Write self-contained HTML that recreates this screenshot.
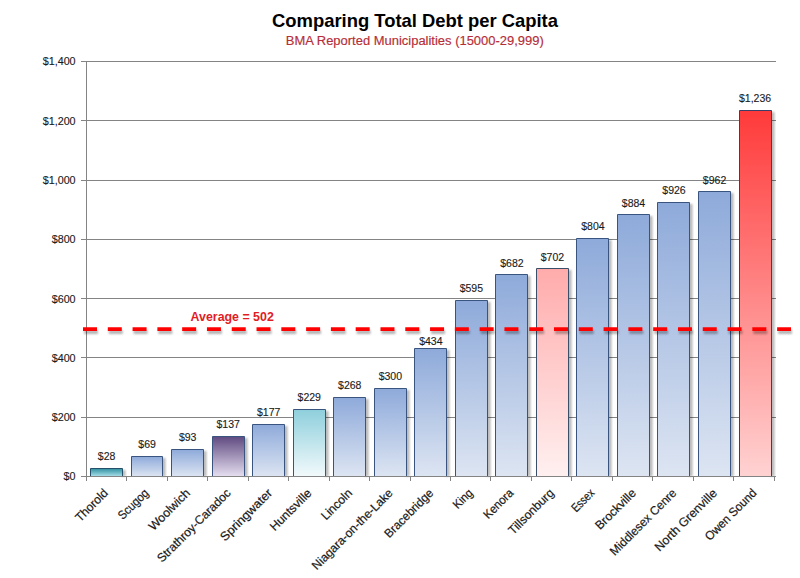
<!DOCTYPE html><html><head><meta charset="utf-8"><style>html,body{margin:0;padding:0;background:#fff;}svg{display:block;font-family:"Liberation Sans", sans-serif;}</style></head><body>
<svg width="800" height="578" viewBox="0 0 800 578">
<defs>
<filter id="sh" x="-30%" y="-10%" width="160%" height="120%"><feGaussianBlur stdDeviation="1.1"/></filter>
<filter id="dsh" filterUnits="userSpaceOnUse" x="70" y="315" width="740" height="30"><feGaussianBlur in="SourceAlpha" stdDeviation="1"/><feOffset dx="1" dy="2.5" result="b"/><feComponentTransfer><feFuncA type="linear" slope="0.3"/></feComponentTransfer><feMerge><feMergeNode/><feMergeNode in="SourceGraphic"/></feMerge></filter>
<linearGradient id="g_teal" x1="0" y1="0" x2="0" y2="1"><stop offset="0" stop-color="#2e8e9f"/><stop offset="1" stop-color="#ade2eb"/></linearGradient>
<linearGradient id="g_blue" x1="0" y1="0" x2="0" y2="1"><stop offset="0" stop-color="#8eaada"/><stop offset="1" stop-color="#dde5f2"/></linearGradient>
<linearGradient id="g_purple" x1="0" y1="0" x2="0" y2="1"><stop offset="0" stop-color="#5f4a80"/><stop offset="1" stop-color="#e6dff0"/></linearGradient>
<linearGradient id="g_lteal" x1="0" y1="0" x2="0" y2="1"><stop offset="0" stop-color="#8ecfdc"/><stop offset="1" stop-color="#f2fafc"/></linearGradient>
<linearGradient id="g_pink" x1="0" y1="0" x2="0" y2="1"><stop offset="0" stop-color="#ffabab"/><stop offset="1" stop-color="#fff0f0"/></linearGradient>
<linearGradient id="g_red" x1="0" y1="0" x2="0" y2="1"><stop offset="0" stop-color="#ff3a3a"/><stop offset="1" stop-color="#ffd2d2"/></linearGradient>
</defs>
<text x="415" y="27" text-anchor="middle" font-size="18.4" font-weight="bold" fill="#000" textLength="286" lengthAdjust="spacingAndGlyphs">Comparing Total Debt per Capita</text>
<text x="414.8" y="45" text-anchor="middle" font-size="12" fill="#b52e38" stroke="#b52e38" stroke-width="0.15" textLength="258" lengthAdjust="spacingAndGlyphs">BMA Reported  Municipalities (15000-29,999)</text>
<line x1="81" y1="476.50" x2="776.00" y2="476.50" stroke="#848484" stroke-width="1"/>
<text x="75.6" y="480.40" text-anchor="end" font-size="10" fill="#1a1a1a" stroke="#1a1a1a" stroke-width="0.12" textLength="11.96" lengthAdjust="spacingAndGlyphs">$0</text>
<line x1="81" y1="417.50" x2="776.00" y2="417.50" stroke="#848484" stroke-width="1"/>
<text x="75.6" y="421.11" text-anchor="end" font-size="10" fill="#1a1a1a" stroke="#1a1a1a" stroke-width="0.12" textLength="23.91" lengthAdjust="spacingAndGlyphs">$200</text>
<line x1="81" y1="357.50" x2="776.00" y2="357.50" stroke="#848484" stroke-width="1"/>
<text x="75.6" y="361.83" text-anchor="end" font-size="10" fill="#1a1a1a" stroke="#1a1a1a" stroke-width="0.12" textLength="23.91" lengthAdjust="spacingAndGlyphs">$400</text>
<line x1="81" y1="298.50" x2="776.00" y2="298.50" stroke="#848484" stroke-width="1"/>
<text x="75.6" y="302.54" text-anchor="end" font-size="10" fill="#1a1a1a" stroke="#1a1a1a" stroke-width="0.12" textLength="23.91" lengthAdjust="spacingAndGlyphs">$600</text>
<line x1="81" y1="239.50" x2="776.00" y2="239.50" stroke="#848484" stroke-width="1"/>
<text x="75.6" y="243.26" text-anchor="end" font-size="10" fill="#1a1a1a" stroke="#1a1a1a" stroke-width="0.12" textLength="23.91" lengthAdjust="spacingAndGlyphs">$800</text>
<line x1="81" y1="180.50" x2="776.00" y2="180.50" stroke="#848484" stroke-width="1"/>
<text x="75.6" y="183.97" text-anchor="end" font-size="10" fill="#1a1a1a" stroke="#1a1a1a" stroke-width="0.12" textLength="32.88" lengthAdjust="spacingAndGlyphs">$1,000</text>
<line x1="81" y1="120.50" x2="776.00" y2="120.50" stroke="#848484" stroke-width="1"/>
<text x="75.6" y="124.69" text-anchor="end" font-size="10" fill="#1a1a1a" stroke="#1a1a1a" stroke-width="0.12" textLength="32.88" lengthAdjust="spacingAndGlyphs">$1,200</text>
<line x1="81" y1="61.50" x2="776.00" y2="61.50" stroke="#848484" stroke-width="1"/>
<text x="75.6" y="65.40" text-anchor="end" font-size="10" fill="#1a1a1a" stroke="#1a1a1a" stroke-width="0.12" textLength="32.88" lengthAdjust="spacingAndGlyphs">$1,400</text>
<rect x="121.50" y="470.00" width="4" height="6.50" fill="#000" opacity="0.28" filter="url(#sh)"/>
<rect x="161.50" y="458.00" width="4" height="18.50" fill="#000" opacity="0.28" filter="url(#sh)"/>
<rect x="202.50" y="451.00" width="4" height="25.50" fill="#000" opacity="0.28" filter="url(#sh)"/>
<rect x="243.50" y="438.00" width="4" height="38.50" fill="#000" opacity="0.28" filter="url(#sh)"/>
<rect x="283.50" y="426.00" width="4" height="50.50" fill="#000" opacity="0.28" filter="url(#sh)"/>
<rect x="324.50" y="411.00" width="4" height="65.50" fill="#000" opacity="0.28" filter="url(#sh)"/>
<rect x="364.50" y="399.00" width="4" height="77.50" fill="#000" opacity="0.28" filter="url(#sh)"/>
<rect x="405.50" y="390.00" width="4" height="86.50" fill="#000" opacity="0.28" filter="url(#sh)"/>
<rect x="445.50" y="350.00" width="4" height="126.50" fill="#000" opacity="0.28" filter="url(#sh)"/>
<rect x="486.50" y="302.00" width="4" height="174.50" fill="#000" opacity="0.28" filter="url(#sh)"/>
<rect x="526.50" y="276.00" width="4" height="200.50" fill="#000" opacity="0.28" filter="url(#sh)"/>
<rect x="567.50" y="270.00" width="4" height="206.50" fill="#000" opacity="0.28" filter="url(#sh)"/>
<rect x="607.50" y="240.00" width="4" height="236.50" fill="#000" opacity="0.28" filter="url(#sh)"/>
<rect x="648.50" y="216.00" width="4" height="260.50" fill="#000" opacity="0.28" filter="url(#sh)"/>
<rect x="688.50" y="204.00" width="4" height="272.50" fill="#000" opacity="0.28" filter="url(#sh)"/>
<rect x="729.50" y="193.00" width="4" height="283.50" fill="#000" opacity="0.28" filter="url(#sh)"/>
<rect x="770.50" y="112.00" width="4" height="364.50" fill="#000" opacity="0.28" filter="url(#sh)"/>
<rect x="90.50" y="468.50" width="32.00" height="8.00" fill="url(#g_teal)"/>
<path d="M90.50,476.5 V468.50 H122.50 V476.5" fill="none" stroke="#24506a" stroke-width="1"/>
<text x="106.60" y="460.40" text-anchor="middle" font-size="10.2" fill="#1a1a1a" stroke="#1a1a1a" stroke-width="0.12" textLength="17.53" lengthAdjust="spacingAndGlyphs">$28</text>
<text transform="translate(108.80,493.80) rotate(-45)" text-anchor="end" font-size="12.2" fill="#1a1a1a" stroke="#1a1a1a" stroke-width="0.2" textLength="40.48" lengthAdjust="spacingAndGlyphs">Thorold</text>
<rect x="131.50" y="456.50" width="31.00" height="20.00" fill="url(#g_blue)"/>
<path d="M131.50,476.5 V456.50 H162.50 V476.5" fill="none" stroke="#38547f" stroke-width="1"/>
<text x="147.13" y="448.25" text-anchor="middle" font-size="10.2" fill="#1a1a1a" stroke="#1a1a1a" stroke-width="0.12" textLength="17.53" lengthAdjust="spacingAndGlyphs">$69</text>
<text transform="translate(149.33,493.80) rotate(-45)" text-anchor="end" font-size="12.2" fill="#1a1a1a" stroke="#1a1a1a" stroke-width="0.2" textLength="37.43" lengthAdjust="spacingAndGlyphs">Scugog</text>
<rect x="171.50" y="449.50" width="32.00" height="27.00" fill="url(#g_blue)"/>
<path d="M171.50,476.5 V449.50 H203.50 V476.5" fill="none" stroke="#38547f" stroke-width="1"/>
<text x="187.66" y="441.13" text-anchor="middle" font-size="10.2" fill="#1a1a1a" stroke="#1a1a1a" stroke-width="0.12" textLength="17.53" lengthAdjust="spacingAndGlyphs">$93</text>
<text transform="translate(190.86,493.80) rotate(-45)" text-anchor="end" font-size="12.2" fill="#1a1a1a" stroke="#1a1a1a" stroke-width="0.2" textLength="53.01" lengthAdjust="spacingAndGlyphs">Woolwich</text>
<rect x="212.50" y="436.50" width="32.00" height="40.00" fill="url(#g_purple)"/>
<path d="M212.50,476.5 V436.50 H244.50 V476.5" fill="none" stroke="#38547f" stroke-width="1"/>
<text x="228.19" y="428.09" text-anchor="middle" font-size="10.2" fill="#1a1a1a" stroke="#1a1a1a" stroke-width="0.12" textLength="23.37" lengthAdjust="spacingAndGlyphs">$137</text>
<text transform="translate(231.39,493.80) rotate(-45)" text-anchor="end" font-size="12.2" fill="#1a1a1a" stroke="#1a1a1a" stroke-width="0.2" textLength="98.01" lengthAdjust="spacingAndGlyphs">Strathroy-Caradoc</text>
<rect x="252.50" y="424.50" width="32.00" height="52.00" fill="url(#g_blue)"/>
<path d="M252.50,476.5 V424.50 H284.50 V476.5" fill="none" stroke="#38547f" stroke-width="1"/>
<text x="268.72" y="416.23" text-anchor="middle" font-size="10.2" fill="#1a1a1a" stroke="#1a1a1a" stroke-width="0.12" textLength="23.37" lengthAdjust="spacingAndGlyphs">$177</text>
<text transform="translate(272.92,493.80) rotate(-45)" text-anchor="end" font-size="12.2" fill="#1a1a1a" stroke="#1a1a1a" stroke-width="0.2" textLength="67.76" lengthAdjust="spacingAndGlyphs">Springwater</text>
<rect x="293.50" y="409.50" width="32.00" height="67.00" fill="url(#g_lteal)"/>
<path d="M293.50,476.5 V409.50 H325.50 V476.5" fill="none" stroke="#38547f" stroke-width="1"/>
<text x="309.25" y="400.82" text-anchor="middle" font-size="10.2" fill="#1a1a1a" stroke="#1a1a1a" stroke-width="0.12" textLength="23.37" lengthAdjust="spacingAndGlyphs">$229</text>
<text transform="translate(312.45,493.80) rotate(-45)" text-anchor="end" font-size="12.2" fill="#1a1a1a" stroke="#1a1a1a" stroke-width="0.2" textLength="53.48" lengthAdjust="spacingAndGlyphs">Huntsville</text>
<rect x="333.50" y="397.50" width="32.00" height="79.00" fill="url(#g_blue)"/>
<path d="M333.50,476.5 V397.50 H365.50 V476.5" fill="none" stroke="#38547f" stroke-width="1"/>
<text x="349.78" y="389.26" text-anchor="middle" font-size="10.2" fill="#1a1a1a" stroke="#1a1a1a" stroke-width="0.12" textLength="23.37" lengthAdjust="spacingAndGlyphs">$268</text>
<text transform="translate(352.98,493.80) rotate(-45)" text-anchor="end" font-size="12.2" fill="#1a1a1a" stroke="#1a1a1a" stroke-width="0.2" textLength="38.24" lengthAdjust="spacingAndGlyphs">Lincoln</text>
<rect x="374.50" y="388.50" width="32.00" height="88.00" fill="url(#g_blue)"/>
<path d="M374.50,476.5 V388.50 H406.50 V476.5" fill="none" stroke="#38547f" stroke-width="1"/>
<text x="390.31" y="379.77" text-anchor="middle" font-size="10.2" fill="#1a1a1a" stroke="#1a1a1a" stroke-width="0.12" textLength="23.37" lengthAdjust="spacingAndGlyphs">$300</text>
<text transform="translate(393.51,493.80) rotate(-45)" text-anchor="end" font-size="12.2" fill="#1a1a1a" stroke="#1a1a1a" stroke-width="0.2" textLength="108.42" lengthAdjust="spacingAndGlyphs">Niagara-on-the-Lake</text>
<rect x="414.50" y="348.50" width="32.00" height="128.00" fill="url(#g_blue)"/>
<path d="M414.50,476.5 V348.50 H446.50 V476.5" fill="none" stroke="#38547f" stroke-width="1"/>
<text x="430.84" y="344.95" text-anchor="middle" font-size="10.2" fill="#1a1a1a" stroke="#1a1a1a" stroke-width="0.12" textLength="23.37" lengthAdjust="spacingAndGlyphs">$434</text>
<text transform="translate(434.04,493.80) rotate(-45)" text-anchor="end" font-size="12.2" fill="#1a1a1a" stroke="#1a1a1a" stroke-width="0.2" textLength="63.3" lengthAdjust="spacingAndGlyphs">Bracebridge</text>
<rect x="455.50" y="300.50" width="32.00" height="176.00" fill="url(#g_blue)"/>
<path d="M455.50,476.5 V300.50 H487.50 V476.5" fill="none" stroke="#38547f" stroke-width="1"/>
<text x="471.37" y="292.32" text-anchor="middle" font-size="10.2" fill="#1a1a1a" stroke="#1a1a1a" stroke-width="0.12" textLength="23.37" lengthAdjust="spacingAndGlyphs">$595</text>
<text transform="translate(473.57,493.80) rotate(-45)" text-anchor="end" font-size="12.2" fill="#1a1a1a" stroke="#1a1a1a" stroke-width="0.2" textLength="22.24" lengthAdjust="spacingAndGlyphs">King</text>
<rect x="495.50" y="274.50" width="32.00" height="202.00" fill="url(#g_blue)"/>
<path d="M495.50,476.5 V274.50 H527.50 V476.5" fill="none" stroke="#38547f" stroke-width="1"/>
<text x="511.90" y="266.54" text-anchor="middle" font-size="10.2" fill="#1a1a1a" stroke="#1a1a1a" stroke-width="0.12" textLength="23.37" lengthAdjust="spacingAndGlyphs">$682</text>
<text transform="translate(514.10,493.80) rotate(-45)" text-anchor="end" font-size="12.2" fill="#1a1a1a" stroke="#1a1a1a" stroke-width="0.2" textLength="36.48" lengthAdjust="spacingAndGlyphs">Kenora</text>
<rect x="536.50" y="268.50" width="32.00" height="208.00" fill="url(#g_pink)"/>
<path d="M536.50,476.5 V268.50 H568.50 V476.5" fill="none" stroke="#3a4f6a" stroke-width="1"/>
<text x="552.43" y="260.61" text-anchor="middle" font-size="10.2" fill="#1a1a1a" stroke="#1a1a1a" stroke-width="0.12" textLength="23.37" lengthAdjust="spacingAndGlyphs">$702</text>
<text transform="translate(554.63,493.80) rotate(-45)" text-anchor="end" font-size="12.2" fill="#1a1a1a" stroke="#1a1a1a" stroke-width="0.2" textLength="58.51" lengthAdjust="spacingAndGlyphs">Tillsonburg</text>
<rect x="576.50" y="238.50" width="32.00" height="238.00" fill="url(#g_blue)"/>
<path d="M576.50,476.5 V238.50 H608.50 V476.5" fill="none" stroke="#38547f" stroke-width="1"/>
<text x="592.96" y="230.37" text-anchor="middle" font-size="10.2" fill="#1a1a1a" stroke="#1a1a1a" stroke-width="0.12" textLength="23.37" lengthAdjust="spacingAndGlyphs">$804</text>
<text transform="translate(595.16,493.80) rotate(-45)" text-anchor="end" font-size="12.2" fill="#1a1a1a" stroke="#1a1a1a" stroke-width="0.2" textLength="26.92" lengthAdjust="spacingAndGlyphs">Essex</text>
<rect x="617.50" y="214.50" width="32.00" height="262.00" fill="url(#g_blue)"/>
<path d="M617.50,476.5 V214.50 H649.50 V476.5" fill="none" stroke="#38547f" stroke-width="1"/>
<text x="633.49" y="206.66" text-anchor="middle" font-size="10.2" fill="#1a1a1a" stroke="#1a1a1a" stroke-width="0.12" textLength="23.37" lengthAdjust="spacingAndGlyphs">$884</text>
<text transform="translate(636.69,493.80) rotate(-45)" text-anchor="end" font-size="12.2" fill="#1a1a1a" stroke="#1a1a1a" stroke-width="0.2" textLength="51.72" lengthAdjust="spacingAndGlyphs">Brockville</text>
<rect x="657.50" y="202.50" width="32.00" height="274.00" fill="url(#g_blue)"/>
<path d="M657.50,476.5 V202.50 H689.50 V476.5" fill="none" stroke="#38547f" stroke-width="1"/>
<text x="674.02" y="194.21" text-anchor="middle" font-size="10.2" fill="#1a1a1a" stroke="#1a1a1a" stroke-width="0.12" textLength="23.37" lengthAdjust="spacingAndGlyphs">$926</text>
<text transform="translate(677.22,493.80) rotate(-45)" text-anchor="end" font-size="12.2" fill="#1a1a1a" stroke="#1a1a1a" stroke-width="0.2" textLength="88.37" lengthAdjust="spacingAndGlyphs">Middlesex Cenre</text>
<rect x="698.50" y="191.50" width="32.00" height="285.00" fill="url(#g_blue)"/>
<path d="M698.50,476.5 V191.50 H730.50 V476.5" fill="none" stroke="#38547f" stroke-width="1"/>
<text x="714.55" y="183.54" text-anchor="middle" font-size="10.2" fill="#1a1a1a" stroke="#1a1a1a" stroke-width="0.12" textLength="23.37" lengthAdjust="spacingAndGlyphs">$962</text>
<text transform="translate(717.75,493.80) rotate(-45)" text-anchor="end" font-size="12.2" fill="#1a1a1a" stroke="#1a1a1a" stroke-width="0.2" textLength="82.34" lengthAdjust="spacingAndGlyphs">North Grenville</text>
<rect x="739.50" y="110.50" width="32.00" height="366.00" fill="url(#g_red)"/>
<path d="M739.50,476.5 V110.50 H771.50 V476.5" fill="none" stroke="#3a3f6a" stroke-width="1"/>
<text x="755.08" y="102.31" text-anchor="middle" font-size="10.2" fill="#1a1a1a" stroke="#1a1a1a" stroke-width="0.12" textLength="32.13" lengthAdjust="spacingAndGlyphs">$1,236</text>
<text transform="translate(757.28,493.80) rotate(-45)" text-anchor="end" font-size="12.2" fill="#1a1a1a" stroke="#1a1a1a" stroke-width="0.2" textLength="67.19" lengthAdjust="spacingAndGlyphs">Owen Sound</text>
<line x1="86.5" y1="61.0" x2="86.5" y2="481" stroke="#848484" stroke-width="1"/>
<line x1="81" y1="476.5" x2="776" y2="476.5" stroke="#848484" stroke-width="1"/>
<line x1="86.50" y1="476.5" x2="86.50" y2="481" stroke="#848484" stroke-width="1"/>
<line x1="126.50" y1="476.5" x2="126.50" y2="481" stroke="#848484" stroke-width="1"/>
<line x1="167.50" y1="476.5" x2="167.50" y2="481" stroke="#848484" stroke-width="1"/>
<line x1="207.50" y1="476.5" x2="207.50" y2="481" stroke="#848484" stroke-width="1"/>
<line x1="248.50" y1="476.5" x2="248.50" y2="481" stroke="#848484" stroke-width="1"/>
<line x1="288.50" y1="476.5" x2="288.50" y2="481" stroke="#848484" stroke-width="1"/>
<line x1="329.50" y1="476.5" x2="329.50" y2="481" stroke="#848484" stroke-width="1"/>
<line x1="369.50" y1="476.5" x2="369.50" y2="481" stroke="#848484" stroke-width="1"/>
<line x1="410.50" y1="476.5" x2="410.50" y2="481" stroke="#848484" stroke-width="1"/>
<line x1="450.50" y1="476.5" x2="450.50" y2="481" stroke="#848484" stroke-width="1"/>
<line x1="490.50" y1="476.5" x2="490.50" y2="481" stroke="#848484" stroke-width="1"/>
<line x1="531.50" y1="476.5" x2="531.50" y2="481" stroke="#848484" stroke-width="1"/>
<line x1="571.50" y1="476.5" x2="571.50" y2="481" stroke="#848484" stroke-width="1"/>
<line x1="612.50" y1="476.5" x2="612.50" y2="481" stroke="#848484" stroke-width="1"/>
<line x1="652.50" y1="476.5" x2="652.50" y2="481" stroke="#848484" stroke-width="1"/>
<line x1="693.50" y1="476.5" x2="693.50" y2="481" stroke="#848484" stroke-width="1"/>
<line x1="733.50" y1="476.5" x2="733.50" y2="481" stroke="#848484" stroke-width="1"/>
<line x1="774.50" y1="476.5" x2="774.50" y2="481" stroke="#848484" stroke-width="1"/>
<line x1="83" y1="329.2" x2="791" y2="329.2" stroke="#ff0000" stroke-width="3.8" stroke-dasharray="14 10.79" filter="url(#dsh)"/>
<text x="190.6" y="320.9" font-size="12" font-weight="bold" fill="#e21c24" textLength="83.2" lengthAdjust="spacingAndGlyphs">Average = 502</text>
</svg></body></html>
